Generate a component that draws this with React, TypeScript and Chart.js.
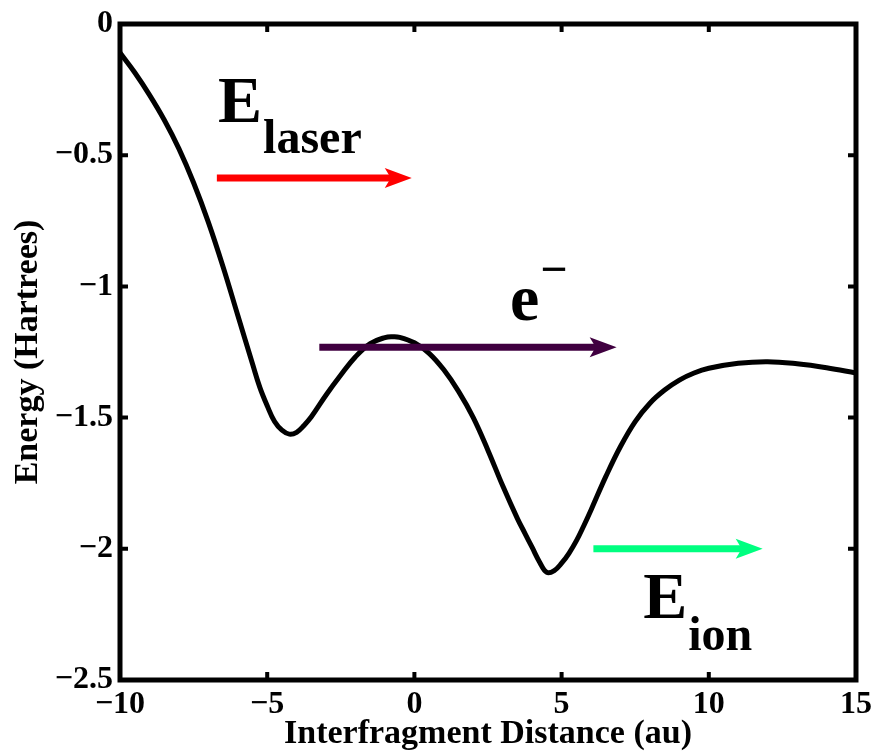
import React, { useEffect, useRef } from 'react';
import { Chart, registerables } from 'chart.js';

Chart.register(...registerables);

// Potential energy curve
const distance = [-10, -9.5, -9, -8.5, -8, -7.5, -7, -6.5, -6, -5.5, -5.25, -5, -4.75, -4.5, -4.25, -4, -3.75, -3.5, -3, -2.5, -2, -1.5, -1, -0.75, -0.5, 0, 0.5, 1, 1.5, 2, 2.5, 3, 3.5, 3.75, 4, 4.25, 4.5, 4.75, 5, 5.25, 5.5, 5.75, 6, 6.5, 7, 7.5, 8, 8.5, 9, 9.5, 10, 11, 12, 13, 14, 15];
const energy = [-0.11, -0.185, -0.27, -0.365, -0.475, -0.605, -0.755, -0.925, -1.11, -1.295, -1.385, -1.455, -1.515, -1.548, -1.563, -1.556, -1.53, -1.497, -1.414, -1.338, -1.268, -1.218, -1.195, -1.192, -1.194, -1.215, -1.255, -1.318, -1.4, -1.5, -1.625, -1.76, -1.885, -1.94, -1.995, -2.05, -2.09, -2.083, -2.055, -2.017, -1.97, -1.913, -1.852, -1.725, -1.61, -1.515, -1.445, -1.395, -1.357, -1.33, -1.312, -1.293, -1.287, -1.295, -1.31, -1.33];

const xTickValues = [-10, -5, 0, 5, 10, 15];
const yTickValues = [-2.5, -2, -1.5, -1, -0.5, 0];

// Arrows (data coordinates)
const arrowStartX = [-6.71, -3.23, 6.08];
const arrowEndX = [-0.09, 6.87, 11.83];
const arrowY = [-0.587, -1.232, -2.0];
const arrowColors = ['#ff0000', '#400040', '#00ff80'];

// Labels (data coordinates of the main glyph's baseline-left)
const labelMain = ['E', 'e', 'E'];
const labelScript = ['laser', '\u2212', 'ion'];
const labelX = [-6.67, 3.25, 7.77];
const labelY = [-0.373, -1.128, -2.264];
const labelScriptShift = [31, -35, 32];

const SERIF = '"Liberation Serif", "Times New Roman", Times, serif';

const fmt = (v: number) => (v < 0 ? '\u2212' + String(Math.abs(v)) : String(v));

const framePlugin = {
  id: 'frameAndAnnotations',
  afterDraw(chart: any) {
    const { ctx, chartArea } = chart;
    const { left, right, top, bottom } = chartArea;
    const xs = chart.scales.x;
    const ys = chart.scales.y;
    ctx.save();
    // ticks (inward, all four sides)
    ctx.strokeStyle = '#000';
    ctx.lineWidth = 4;
    const tl = 8;
    xTickValues.forEach((v) => {
      const px = xs.getPixelForValue(v);
      ctx.beginPath();
      ctx.moveTo(px, bottom);
      ctx.lineTo(px, bottom - tl);
      ctx.moveTo(px, top);
      ctx.lineTo(px, top + tl);
      ctx.stroke();
    });
    yTickValues.forEach((v) => {
      const py = ys.getPixelForValue(v);
      ctx.beginPath();
      ctx.moveTo(left, py);
      ctx.lineTo(left + tl, py);
      ctx.moveTo(right, py);
      ctx.lineTo(right - tl, py);
      ctx.stroke();
    });
    // box
    ctx.lineWidth = 5;
    ctx.strokeRect(left, top, right - left, bottom - top);

    // arrows
    arrowStartX.forEach((sx, i) => {
      const x0 = xs.getPixelForValue(sx);
      const x1 = xs.getPixelForValue(arrowEndX[i]);
      const y = ys.getPixelForValue(arrowY[i]);
      const headLen = 27;
      const headHalf = 10;
      const notch = 6;
      ctx.strokeStyle = arrowColors[i];
      ctx.fillStyle = arrowColors[i];
      ctx.lineWidth = 7;
      ctx.lineCap = 'butt';
      ctx.beginPath();
      ctx.moveTo(x0, y);
      ctx.lineTo(x1 - headLen + notch + 1, y);
      ctx.stroke();
      ctx.beginPath();
      ctx.moveTo(x1, y);
      ctx.lineTo(x1 - headLen, y - headHalf);
      ctx.lineTo(x1 - headLen + notch, y);
      ctx.lineTo(x1 - headLen, y + headHalf);
      ctx.closePath();
      ctx.fill();
    });

    // labels
    ctx.fillStyle = '#000';
    ctx.textBaseline = 'alphabetic';
    ctx.textAlign = 'left';
    labelMain.forEach((m, i) => {
      const px = xs.getPixelForValue(labelX[i]);
      const py = ys.getPixelForValue(labelY[i]);
      ctx.font = `bold 66px ${SERIF}`;
      ctx.fillText(m, px, py);
      const w = ctx.measureText(m).width;
      ctx.font = `bold 48px ${SERIF}`;
      ctx.fillText(labelScript[i], px + w + 1, py + labelScriptShift[i]);
    });
    ctx.restore();
  },
};

export default function App() {
  const canvasRef = useRef<HTMLCanvasElement | null>(null);

  useEffect(() => {
    const canvas = canvasRef.current;
    if (!canvas) return;
    const chart = new Chart(canvas, {
      type: 'line',
      data: {
        datasets: [
          {
            data: distance.map((x, i) => ({ x, y: energy[i] })),
            borderColor: '#000000',
            borderWidth: 5,
            pointRadius: 0,
            fill: false,
            tension: 0.4,
            borderJoinStyle: 'round',
          },
        ],
      },
      options: {
        animation: false,
        responsive: false,
        events: [],
        layout: { padding: { top: 24, right: 20, left: 0, bottom: 0 } },
        plugins: { legend: { display: false }, tooltip: { enabled: false } },
        scales: {
          x: {
            type: 'linear',
            min: -10,
            max: 15,
            grid: { display: false, drawTicks: false, tickLength: 0 },
            border: { display: false },
            afterBuildTicks: (scale: any) => {
              scale.ticks = xTickValues.map((v) => ({ value: v }));
            },
            afterFit: (scale: any) => {
              scale.height = 76;
              scale.paddingLeft = 0;
              scale.paddingRight = 0;
            },
            ticks: {
              autoSkip: false,
              maxRotation: 0,
              padding: 6,
              color: '#000',
              font: { family: SERIF, size: 32, weight: 'bold' },
              callback: (v: any) => fmt(Number(v)),
            },
            title: {
              display: true,
              text: 'Interfragment Distance (au)',
              color: '#000',
              font: { family: SERIF, size: 34, weight: 'bold' },
              padding: { top: 0, bottom: 1 },
            },
          },
          y: {
            type: 'linear',
            min: -2.5,
            max: 0,
            grid: { display: false, drawTicks: false, tickLength: 0 },
            border: { display: false },
            afterBuildTicks: (scale: any) => {
              scale.ticks = yTickValues.map((v) => ({ value: v }));
            },
            afterFit: (scale: any) => {
              scale.width = 120;
              scale.paddingTop = 0;
              scale.paddingBottom = 0;
            },
            ticks: {
              autoSkip: false,
              padding: 7,
              color: '#000',
              font: { family: SERIF, size: 32, weight: 'bold' },
              callback: (v: any) => fmt(Number(v)),
            },
            title: {
              display: true,
              text: 'Energy (Hartrees)',
              color: '#000',
              font: { family: SERIF, size: 34, weight: 'bold' },
              padding: { top: 8, bottom: 0 },
            },
          },
        },
      },
      plugins: [framePlugin],
    } as any);
    return () => chart.destroy();
  }, []);

  return (
    <canvas
      ref={canvasRef}
      width={876}
      height={756}
      style={{ position: 'absolute', left: 0, top: 0, background: '#fff' }}
    />
  );
}
